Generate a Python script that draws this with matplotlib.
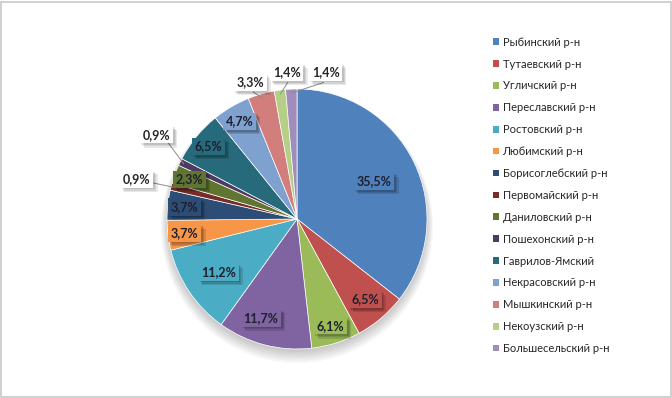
import numpy as np
import matplotlib
matplotlib.use("Agg")
import matplotlib.pyplot as plt
from matplotlib.patches import Patch, Circle, Rectangle
import matplotlib.patheffects as pe

plt.rcParams["font.family"] = ["Lato", "Open Sans", "DejaVu Sans"]

districts = [
    "Рыбинский р-н", "Тутаевский р-н", "Угличский р-н", "Переславский р-н",
    "Ростовский р-н", "Любимский р-н", "Борисоглебский р-н", "Первомайский р-н",
    "Даниловский р-н", "Пошехонский р-н", "Гаврилов-Ямский", "Некрасовский р-н",
    "Мышкинский р-н", "Некоузский р-н", "Большесельский р-н",
]
shares = [35.5, 6.5, 6.1, 11.7, 11.2, 3.7, 3.7, 0.9, 2.3, 0.9, 6.5, 4.7, 3.3, 1.4, 1.4]

colors = [
    "#4F81BD", "#C0504D", "#9BBB59", "#8064A2", "#4BACC6", "#F79646",
    "#2C4D75", "#772C2A", "#5F7530", "#4D3B62", "#276A7C", "#7EA1D0",
    "#D27E7C", "#B5CF87", "#A08DBB",
]

# label placement: (radius as fraction of pie radius, angle override or None, outside?)
label_pos = [
    (0.66, None, False), (0.81, None, False), (0.86, None, False),
    (0.81, -110, False), (0.73, None, False), (0.87, None, False),
    (0.87, None, False), (1.27, 166, True), (0.88, None, False),
    (1.26, 149, True), (0.88, None, False), (0.87, None, False),
    (1.11, 109, True), (1.13, 94, True), (1.15, 79, True),
]


def soft_shadow(alpha):
    # a few stacked offsets give a blurred-looking drop shadow
    return [pe.SimplePatchShadow(offset=(d, -d), shadow_rgbFace="#000000", alpha=alpha)
            for d in (3, 2, 1)] + [pe.Normal()]


R = 1.3
fig = plt.figure(figsize=(6.72, 3.98), dpi=100)
fig.patches.append(Rectangle((0.002, 0.002), 0.996, 0.994, transform=fig.transFigure,
                             fill=False, edgecolor="#C8C8C8", linewidth=1.2))

ax = fig.add_axes([0.2188, 0.0729, 0.4464, 0.7538])

# soft shadow under the pie
for k in range(6):
    ax.add_patch(Circle((0.0, -0.03 - 0.01 * k), R + 0.012 * k, color="#000000",
                        alpha=0.035, lw=0, zorder=0))

wedges, _ = ax.pie(shares, colors=colors, radius=R, startangle=90, counterclock=False,
                   wedgeprops=dict(linewidth=0.5, edgecolor="white"))
ax.set_xlim(-1.5, 1.5)
ax.set_ylim(-1.5, 1.5)
ax.set_aspect("equal")
ax.axis("off")

for w, val, col, (fr, ang_override, outside) in zip(wedges, shares, colors, label_pos):
    mid = (w.theta1 + w.theta2) / 2.0
    ang = mid if ang_override is None else ang_override
    x = fr * R * np.cos(np.radians(ang))
    y = fr * R * np.sin(np.radians(ang))
    txt = f"{val:.1f}%".replace(".", ",")
    if outside:
        ex = R * np.cos(np.radians(mid))
        ey = R * np.sin(np.radians(mid))
        ax.plot([ex * 0.97, x * 0.93], [ey * 0.97, y * 0.93], color="#8C8C8C", lw=0.7, zorder=3)
        face, tcol, sh = "white", "#262626", 0.09
    else:
        face, tcol, sh = col, "#1F1F2E", 0.12
    t = ax.text(x, y, txt, ha="center", va="center", fontsize=9, fontweight="bold",
                color=tcol, zorder=5,
                bbox=dict(boxstyle="square,pad=0.22", facecolor=face, edgecolor="none"))
    t.get_bbox_patch().set_path_effects(soft_shadow(sh))

handles = [Patch(facecolor=c, edgecolor="none") for c in colors]
fig.legend(handles, districts, loc="upper left", bbox_to_anchor=(0.733, 0.908),
           frameon=False, fontsize=8, handlelength=0.55, handleheight=0.55,
           handletextpad=0.35, labelspacing=0.98, labelcolor="#262626",
           borderaxespad=0, borderpad=0)

fig.savefig("out.png", dpi=100)
